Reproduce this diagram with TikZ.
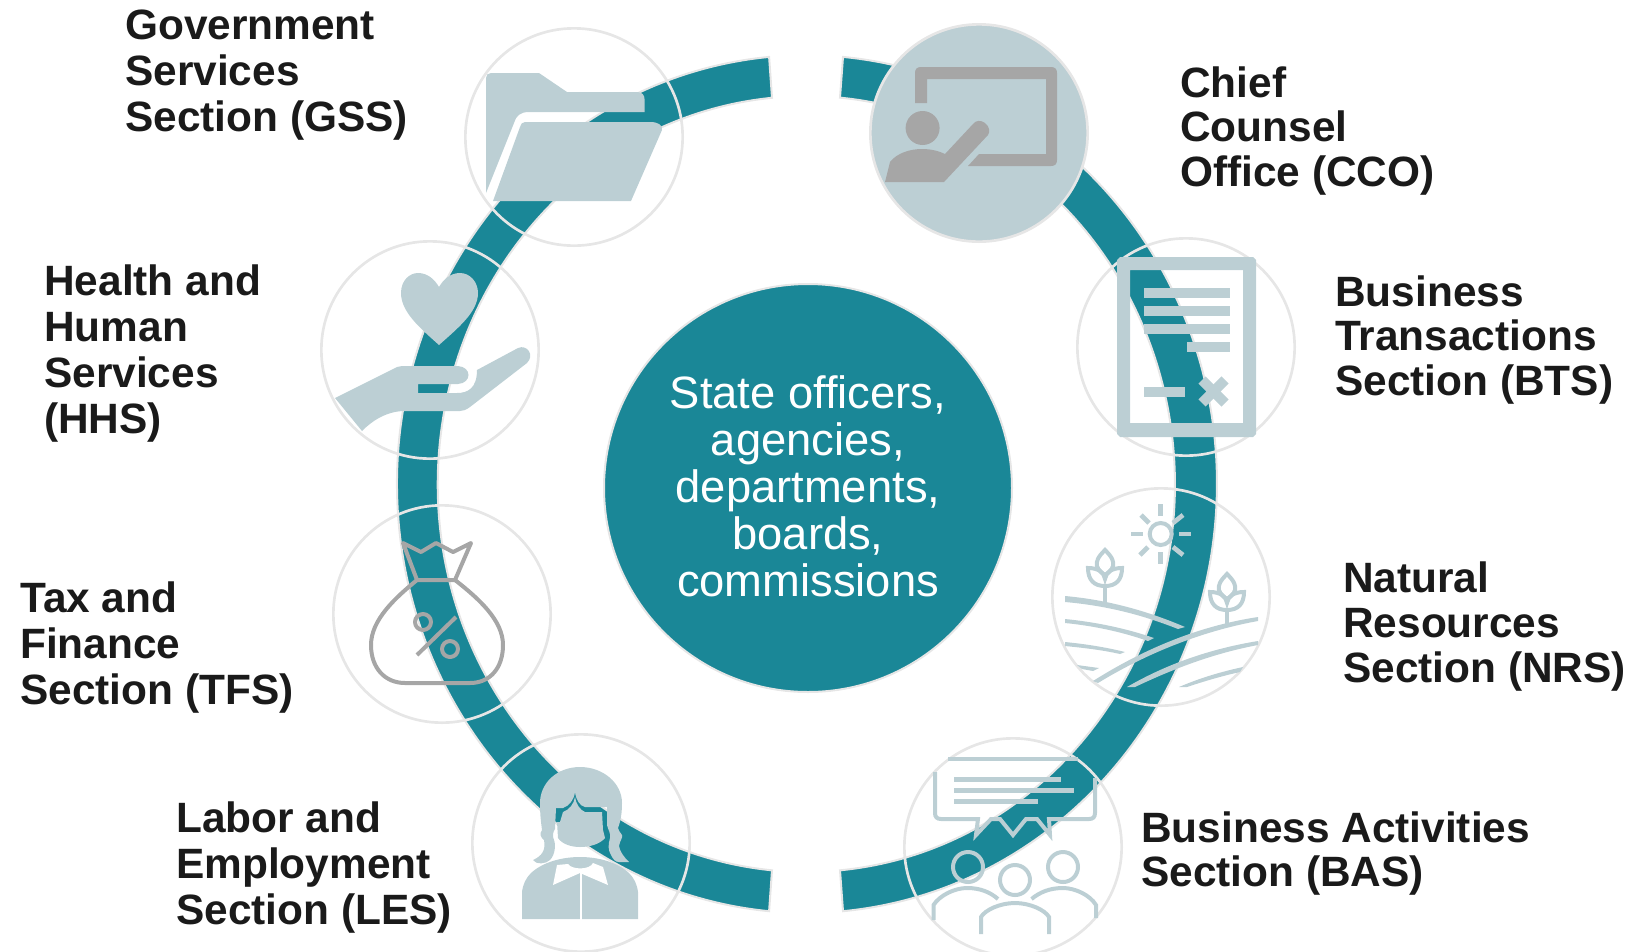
\documentclass[tikz,border=0pt]{standalone}
\usepackage{fontspec}
\setmainfont{Liberation Sans}
\definecolor{teal1}{HTML}{1A8797}
\definecolor{pale1}{HTML}{BCCFD4}
\definecolor{grey1}{HTML}{A6A6A6}
\definecolor{edge1}{HTML}{E6E6E6}
\definecolor{ink1}{HTML}{1A1A1A}
\begin{document}
\begin{tikzpicture}[x=0.75pt,y=-0.75pt]
    \tikzstyle{band}=[fill=teal1,draw=edge1,line width=1.5pt]
    \tikzstyle{sec}=[circle,draw=edge1,line width=2pt,minimum width=163pt,inner sep=0pt]
    \tikzstyle{filled}=[fill=pale1]
    \tikzstyle{core}=[circle,fill=teal1,draw=edge1,line width=1.5pt,minimum width=306pt,inner sep=0pt]
    \tikzstyle{coretxt}=[inner sep=0pt,text=white,align=center,font=\fontsize{34}{35.2}\selectfont]
    \tikzstyle{txt}=[anchor=west,inner sep=0pt,align=left,text=ink1,font=\fontsize{31.8}{34.5}\bfseries\selectfont]
    \tikzstyle{txtr}=[anchor=west,inner sep=0pt,align=left,text=ink1,font=\fontsize{31.8}{33.4}\bfseries\selectfont]
    \tikzstyle{solid1}=[fill=pale1]
    \tikzstyle{solid2}=[fill=grey1]
    \tikzstyle{thin1}=[draw=pale1,line width=3pt]
    \tikzstyle{thin2}=[draw=grey1,line width=3pt,line join=round]

    \useasboundingbox (0,0) rectangle (1632,951);

    % ring
    \draw[band] (769.1,56.9) arc[start angle=-95.3,end angle=-264.7,x radius=410,y radius=429] -- (772,870.3) arc[start angle=-264.6,end angle=-95.4,x radius=369,y radius=388] -- cycle;
    \draw[band] (843,56.9) arc[start angle=-84.7,end angle=84.7,x radius=412,y radius=429] -- (840,870.3) arc[start angle=84.7,end angle=-84.7,x radius=369,y radius=388] -- cycle;

    \node[core] (center) at (808,488) {};
    \node[coretxt] (centertext) at (808,486.5) {State officers,\\agencies,\\departments,\\boards,\\commissions};

    \node[sec] (gss) at (574,137) {};
    \node[sec, filled] (cco) at (979,133) {};
    \node[sec] (bts) at (1186,347) {};
    \node[sec] (nrs) at (1161,597) {};
    \node[sec] (hhs) at (430,350) {};
    \node[sec] (tfs) at (442,614) {};
    \node[sec] (les) at (581,843) {};
    \node[sec] (bas) at (1013,847) {};

    % folder
    \fill[solid1] (486,78) .. controls (486,75) and (488,73) .. (491,73) -- (539,73) -- (567,92) -- (637,92) .. controls (642,92) and (644.5,95) .. (644.5,99) -- (644.5,112) -- (529,112) .. controls (520,112) and (516,116) .. (514,123) -- (486,193) -- cycle;
    \fill[solid1] (525,122) -- (650,122) .. controls (658,122) and (663,125) .. (662,130) -- (631,201) -- (493,201) -- (520,127) .. controls (521,124) and (522,122) .. (525,122) -- cycle;

    % teacher
    \fill[solid2] (915,103) -- (915,73) .. controls (915,69) and (917,67) .. (921,67) -- (1051,67) .. controls (1055,67) and (1057,69) .. (1057,73) -- (1057,160) .. controls (1057,164) and (1055,166) .. (1051,166) -- (968,166) -- (979,154) -- (1046,154) -- (1046,79) -- (927,79) -- (927,103) .. controls (923,103) and (919,103) .. (915,103) -- cycle;
    \fill[solid2] (922.6,128) circle[x radius=17,y radius=17];
    \fill[solid2] (885,182) -- (890,162) .. controls (897,153) and (910,149) .. (922,149) .. controls (931,149) and (939,151) .. (945,154) -- (973,124) .. controls (976,120) and (981,120) .. (985,123) .. controls (990,127) and (990,132) .. (988,135) -- (944,182) -- cycle;

    % document
    \fill[solid1, even odd rule] (1120,257) -- (1253,257) -- (1256,260) -- (1256,434) -- (1253,437) -- (1120,437) -- (1117,434) -- (1117,260) -- cycle (1130,270) rectangle (1243,423);
    \fill[solid1] (1144,288) rectangle (1230,298);
    \fill[solid1] (1144,306) rectangle (1230,316);
    \fill[solid1] (1144,324) rectangle (1230,334);
    \fill[solid1] (1187,342) rectangle (1230,352);
    \fill[solid1] (1144,387) rectangle (1185,397);
    \draw[pale1, line width=7.5pt] (1202,380) -- (1225,403);
    \draw[pale1, line width=7.5pt] (1225,380) -- (1202,403);

    % sun and fields
    \draw[thin1] (1160.7,534) circle[radius=11];
    \foreach \a/\b/\c/\d in {1160.7/504/1160.7/516, 1160.7/552/1160.7/564, 1131/534/1143/534, 1179/534/1191/534, 1141/515/1149/523, 1183/515/1173/523, 1148/547/1140/555, 1173/547/1183/555}
      \draw[pale1, line width=3.5pt] (\a,\b) -- (\c,\d);
    \foreach \s/\t in {0/0, 122/24} {
      \begin{scope}[shift={(\s,\t)}]
        \draw[thin1] (1105,586) -- (1105,602);
        \draw[thin1] (1105,550) .. controls (1098,557) and (1096,561) .. (1097,566) .. controls (1098,570) and (1102,573) .. (1105,575) .. controls (1108,573) and (1112,570) .. (1113,566) .. controls (1114,561) and (1112,557) .. (1105,550) -- cycle;
        \draw[thin1] (1105,586) .. controls (1094,586) and (1088,580) .. (1088,568) .. controls (1098,568) and (1104,572) .. (1105,579) .. controls (1106,572) and (1112,568) .. (1122,568) .. controls (1122,580) and (1116,586) .. (1105,586) -- cycle;
      \end{scope}
    }
    \fill[solid1] (1065,596) .. controls (1110,600) and (1150,612) .. (1185,627) -- (1178,629) .. controls (1145,616) and (1110,606) .. (1065,602) -- cycle;
    \fill[solid1] (1065,619) .. controls (1095,622) and (1125,628) .. (1154,638) -- (1148,641) .. controls (1122,632) and (1095,626) .. (1065,623) -- cycle;
    \fill[solid1] (1065,642) .. controls (1085,644) and (1105,647) .. (1125,652) -- (1120,654) .. controls (1102,650) and (1085,648) .. (1065,646) -- cycle;
    \fill[solid1] (1077,665) -- (1099,668) -- (1093,671) -- (1082,669) -- cycle;
    \fill[solid1] (1093,681) .. controls (1150,645) and (1205,625) .. (1258,617) -- (1258,621) .. controls (1208,630) and (1152,650) .. (1098,683) -- cycle;
    \fill[solid1] (1127,687) .. controls (1170,662) and (1215,648) .. (1258,641) -- (1258,645) .. controls (1215,653) and (1175,668) .. (1135,687) -- cycle;
    \fill[solid1] (1179,687) .. controls (1200,678) and (1220,672) .. (1243,667) -- (1240,672) .. controls (1222,676) and (1205,681) .. (1187,687) -- cycle;

    % heart and hand
    \fill[solid1] (439,345) .. controls (420,328) and (401,312) .. (401,293) .. controls (401,280) and (410,273) .. (418,273) .. controls (428,273) and (435,280) .. (439,287) .. controls (443,280) and (450,273) .. (460,273) .. controls (470,273) and (478,282) .. (478,293) .. controls (478,312) and (458,328) .. (439,345) -- cycle;
    \fill[solid1] (335,398) -- (397,367) -- (402,366) -- (458,366) .. controls (472,367) and (472,383) .. (458,384) -- (418,384) -- (418,393) -- (457,393) .. controls (468,393) and (477,388) .. (477,370) -- (518,348) .. controls (527,344) and (535,355) .. (527,363) -- (470,407) .. controls (466,410) and (463,411) .. (460,411) -- (403,411) .. controls (385,412) and (372,421) .. (362,431) -- cycle;

    % money bag
    \draw[thin2] (417,580) -- (455,580) -- (471,543) -- (453,552) -- (436,543) -- (421,552) -- (403,543) -- cycle;
    \draw[thin2] (417,580) .. controls (395,598) and (371,620) .. (371,645) .. controls (371,668) and (385,683) .. (405,683) -- (470,683) .. controls (490,683) and (503,668) .. (503,645) .. controls (503,620) and (478,598) .. (455,580);
    \draw[thin2] (423,622) circle[radius=8];
    \draw[thin2] (450,649) circle[radius=8];
    \draw[thin2] (456,617) -- (417,655);

    % woman
    \fill[solid1] (580,767) .. controls (557,767) and (540,783) .. (540,803) .. controls (540,815) and (541,822) .. (542,830) .. controls (539,834) and (541,838) .. (544,840) .. controls (546,850) and (542,856) .. (533,860) .. controls (536,865) and (546,864) .. (550,860) .. controls (555,855) and (556,845) .. (554,840) .. controls (552,836) and (553,832) .. (555,829) -- (556,808) -- (563,808) .. controls (569,806) and (574,800) .. (575,792) .. controls (576,800) and (580,806) .. (585,807) -- (607,807) -- (607,825) .. controls (608,830) and (611,833) .. (610,838) .. controls (608,845) and (608,850) .. (611,855) .. controls (613,859) and (615,862) .. (619,862) -- (629,862) .. controls (624,857) and (620,852) .. (619,846) .. controls (620,840) and (623,838) .. (622,835) .. controls (620,832) and (618,830) .. (618,828) .. controls (621,820) and (622,812) .. (622,803) .. controls (622,783) and (603,767) .. (580,767) -- cycle;
    \fill[solid1] (563,812) .. controls (569,810) and (574,804) .. (575,797) .. controls (576,804) and (580,810) .. (585,812) -- (602,812) -- (603,830) -- (605,838) .. controls (600,844) and (590,847) .. (580,847) .. controls (571,847) and (562,844) .. (558,838) -- (557,822) -- (560,822) -- cycle;
    \fill[solid1] (522,919) -- (522,892) .. controls (523,884) and (526,878) .. (531,873) .. controls (543,862) and (562,857) .. (580,857) .. controls (598,857) and (617,862) .. (629,873) .. controls (634,878) and (637,884) .. (638,892) -- (638,919) -- cycle;
    \fill[white] (557,865) -- (553,885) -- (580,873) -- (608,885) -- (603,867) -- (593,863) .. controls (590,870) and (572,870) .. (568,864) -- cycle;
    \draw[white, line width=2pt] (581,873) -- (581,920);

    % speech and people
    \draw[pale1, line width=3pt] (948,759) -- (1078,759);
    \draw[thin1] (935,772) -- (935,813) .. controls (935,817) and (937,819) .. (941,819) -- (978,819) -- (976,835) -- (991,819) -- (1000,819) -- (1013,835) -- (1026,819) -- (1037,819) -- (1050,835) -- (1049,819) -- (1089,819) .. controls (1093,819) and (1095,817) .. (1095,813) -- (1095,778);
    \fill[solid1] (954,776.5) rectangle (1061,781.5);
    \fill[solid1] (954,787.5) rectangle (1074,792.5);
    \fill[solid1] (954,798.5) rectangle (1038,803.5);
    \foreach \a/\b in {968/867, 1015/880, 1063/867}
      \draw[thin1] (\a,\b) circle[radius=15];
    \draw[thin1] (933.5,920) -- (933.5,905) .. controls (940,895) and (955,888) .. (967,888) .. controls (980,888) and (990,892) .. (998,899);
    \draw[thin1] (1096,918) -- (1096,905) .. controls (1090,895) and (1075,888) .. (1063,888) .. controls (1050,888) and (1040,892) .. (1031.5,899);
    \draw[thin1] (981,934) -- (981,917) .. controls (985,910) and (1000,903) .. (1015,903) .. controls (1030,903) and (1045,910) .. (1049,917) -- (1049,934);

    \node[txt] (gsstext) at (125,75.5) {Government\\Services\\Section (GSS)};
    \node[txt] (hhstext) at (44,354) {Health and\\Human\\Services\\(HHS)};
    \node[txt] (tfstext) at (20,648) {Tax and\\Finance\\Section (TFS)};
    \node[txt] (lestext) at (176,867.5) {Labor and\\Employment\\Section (LES)};
    \node[txtr] (ccotext) at (1180,131) {Chief\\Counsel\\Office (CCO)};
    \node[txtr] (btstext) at (1335,340) {Business\\Transactions\\Section (BTS)};
    \node[txtr] (nrstext) at (1343,626.5) {Natural\\Resources\\Section (NRS)};
    \node[txtr] (bastext) at (1141,853.5) {Business Activities\\Section (BAS)};
\end{tikzpicture}
\end{document}
